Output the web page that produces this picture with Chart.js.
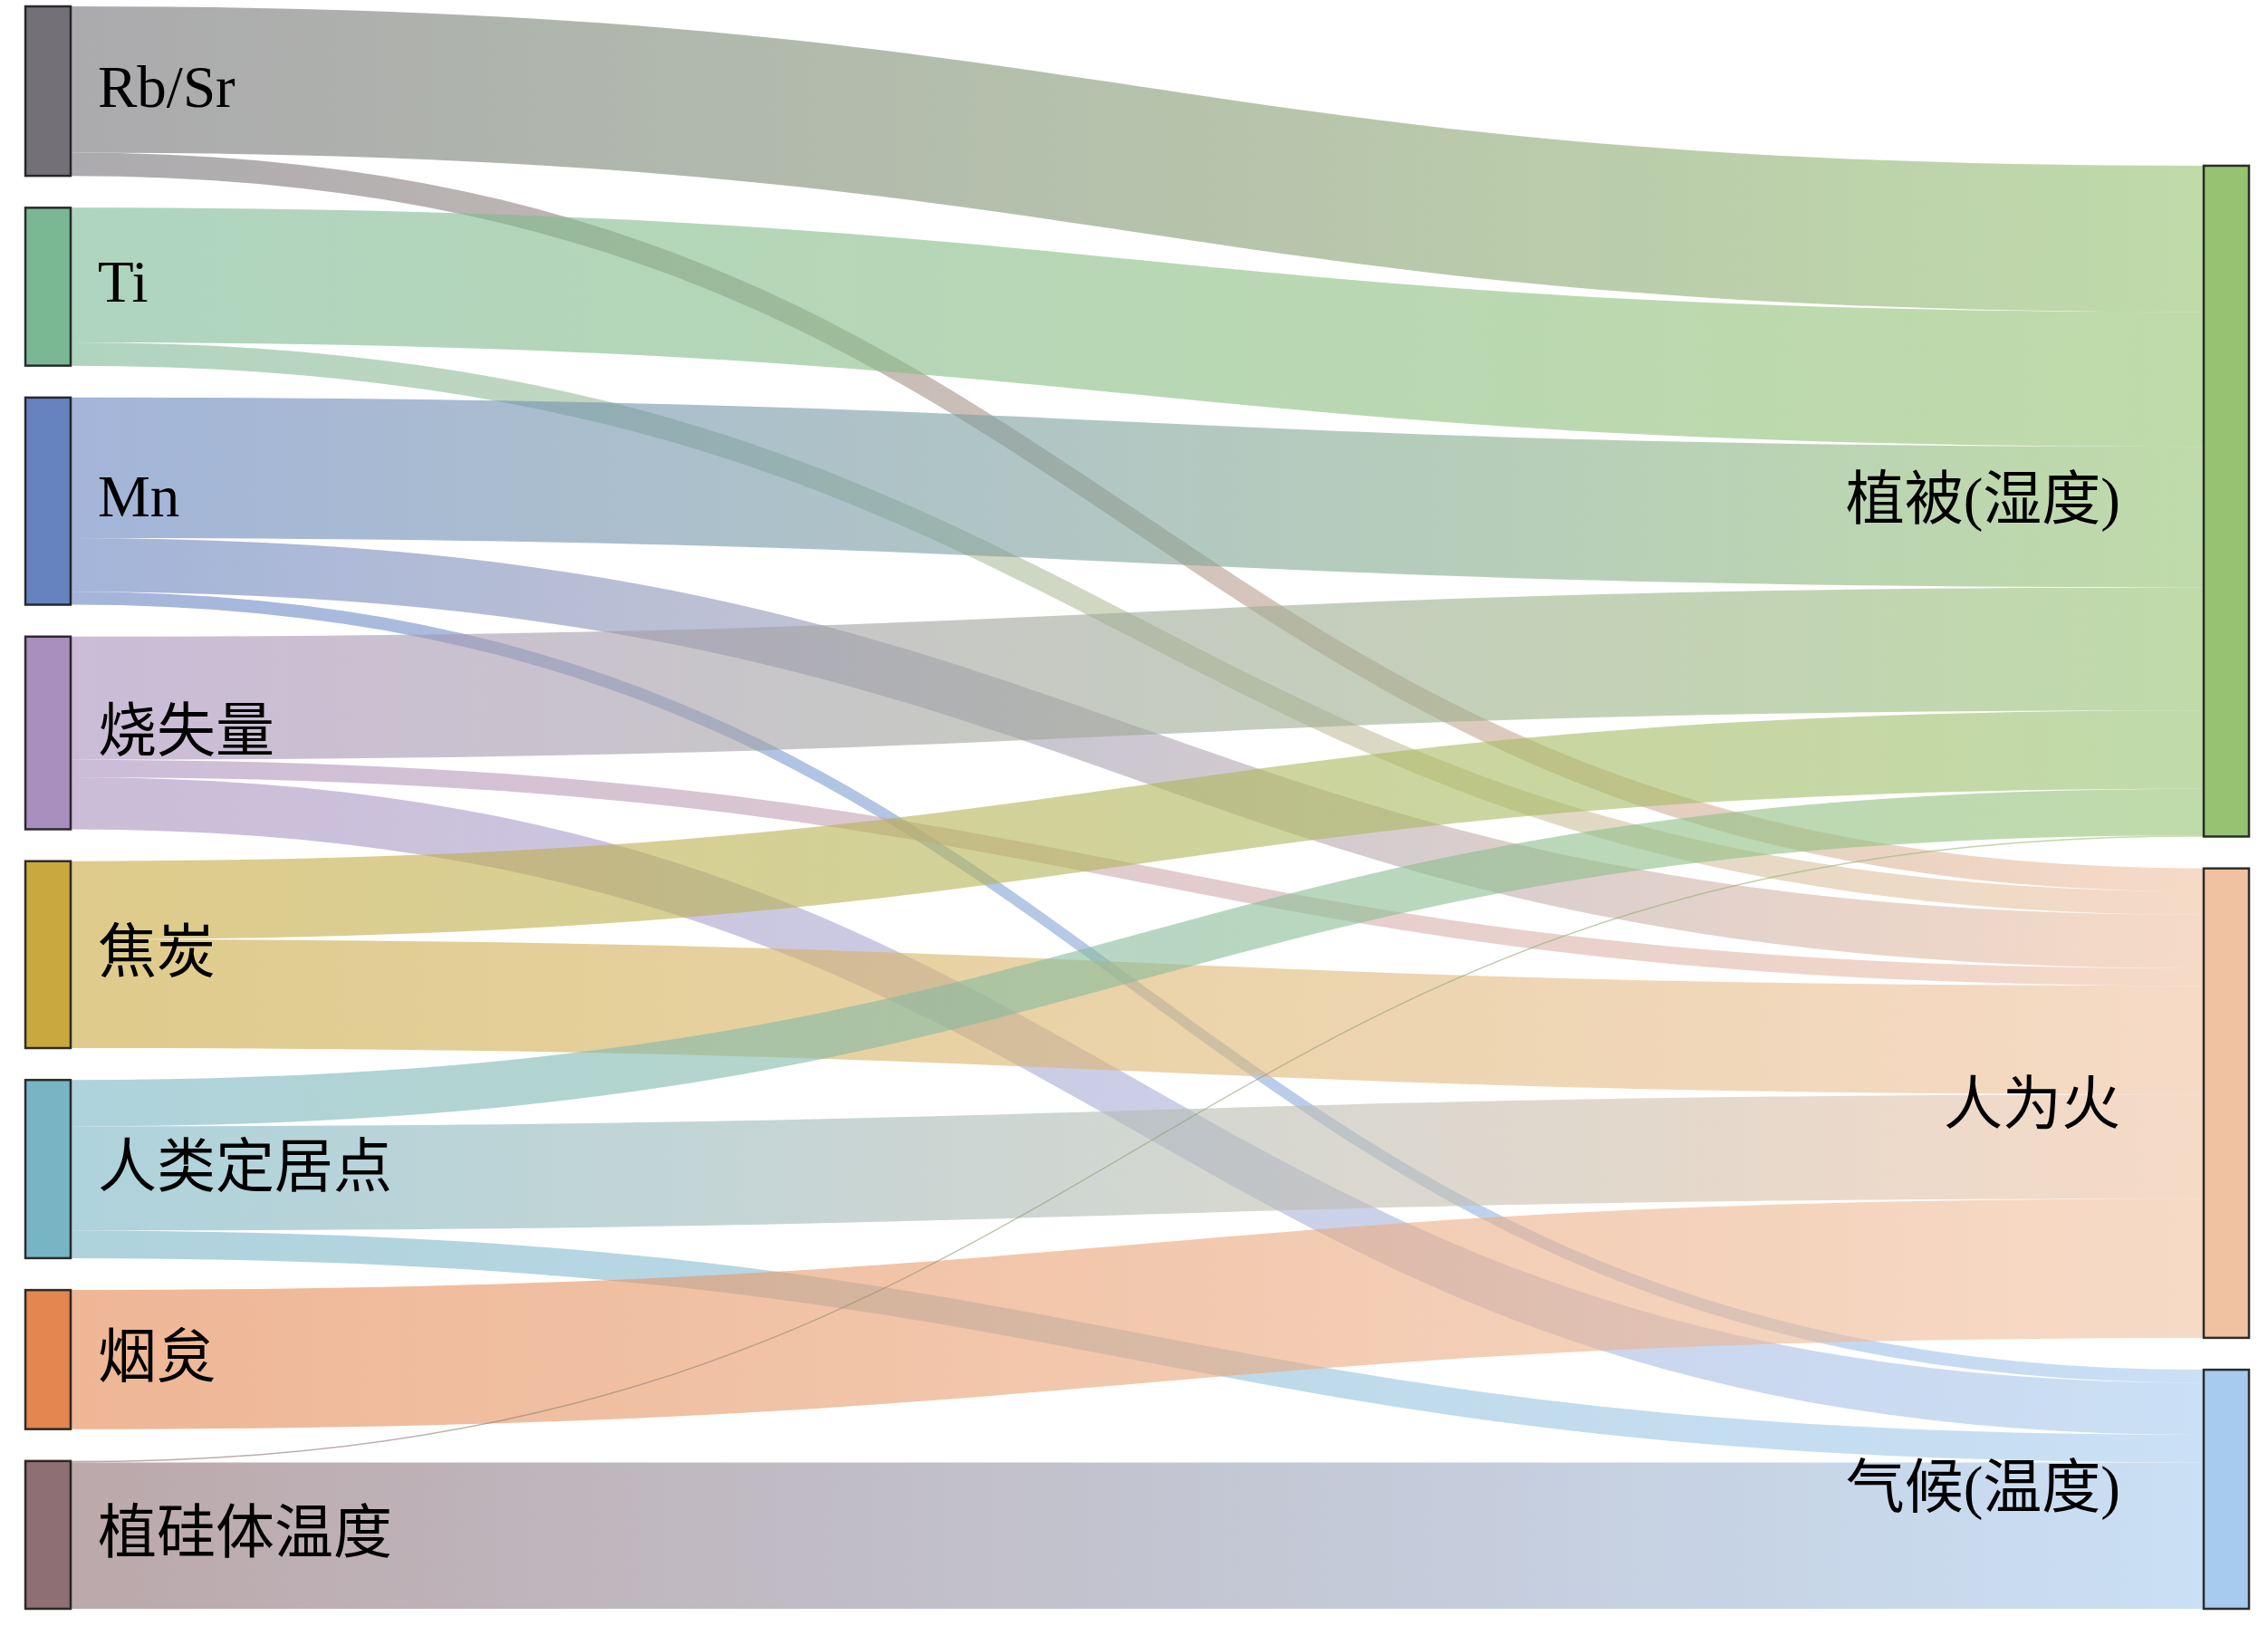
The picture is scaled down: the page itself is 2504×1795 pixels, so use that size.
<!DOCTYPE html>
<html>
<head>
<meta charset="utf-8">
<title>Sankey</title>
<script src="https://cdn.jsdelivr.net/npm/chart.js@4.4.1/dist/chart.umd.min.js"></script>
<style>
  html, body { margin: 0; padding: 0; background: #fff; }
  canvas { display: block; }
</style>
</head>
<body>
<canvas id="sankeyChart" width="2504" height="1795"></canvas>
<script>
  // Left column nodes (sources)
  const sources = ['Rb/Sr', 'Ti', 'Mn', '烧失量', '焦炭', '人类定居点', '烟炱', '植硅体温度'];
  // Right column nodes (targets)
  const targets = ['植被(湿度)', '人为火', '气候(温度)'];

  // Flow values per target, indexed like sources
  const toVegetation = [101, 93, 97, 85, 54, 32, 0, 1];
  const toHumanFire  = [16, 16, 37, 12, 75, 72, 96, 0];
  const toClimate    = [0, 0, 9, 36, 0, 19, 0, 101];

  const sourceColors = ['#737177', '#7ab894', '#6683c0', '#a98fbd', '#c9a93e', '#78b5c4', '#e3864f', '#8e6f73'];
  const targetColors = ['#96c271', '#f0c2a1', '#a7cbef'];

  const nodeGap = 22; // gap between nodes, in value units

  // Build layout (value space) from the arrays
  const matrix = [toVegetation, toHumanFire, toClimate];
  const srcTotals = sources.map((_, i) => matrix.reduce((s, row) => s + row[i], 0));
  const tgtTotals = matrix.map(row => row.reduce((s, v) => s + v, 0));

  const leftExtent = srcTotals.reduce((a, b) => a + b, 0) + nodeGap * (sources.length - 1);
  const rightExtent = tgtTotals.reduce((a, b) => a + b, 0) + nodeGap * (targets.length - 1);

  const srcY = [];
  let acc = 0;
  srcTotals.forEach(v => { srcY.push(acc); acc += v + nodeGap; });
  const tgtY = [];
  acc = leftExtent - rightExtent; // right column sits at the bottom
  tgtTotals.forEach(v => { tgtY.push(acc); acc += v + nodeGap; });

  const flows = [];
  const srcOff = srcY.slice();
  const tgtOff = tgtY.slice();
  sources.forEach((_, s) => {
    matrix.forEach((row, t) => {
      const v = row[s];
      if (!v) return;
      flows.push({ s: s, t: t, value: v, sy: srcOff[s], ty: 0 });
      srcOff[s] += v;
    });
  });
  // target offsets in source order
  targets.forEach((_, t) => {
    flows.filter(f => f.t === t).sort((a, b) => a.s - b.s).forEach(f => {
      f.ty = tgtOff[t];
      tgtOff[t] += f.value;
    });
  });

  const sankeyPlugin = {
    id: 'sankey',
    afterDatasetsDraw(chart, args, opts) {
      const ctx = chart.ctx;
      const xs = chart.scales.x, ys = chart.scales.y;
      const xl = xs.getPixelForValue(0), xr = xs.getPixelForValue(1);
      const w = opts.nodeWidth;
      const x0 = xl + w, x1 = xr - w;
      const xm = (x0 + x1) / 2;

      // flows
      ctx.save();
      ctx.globalAlpha = opts.flowAlpha;
      flows.forEach(f => {
        const a0 = ys.getPixelForValue(f.sy), a1 = ys.getPixelForValue(f.sy + f.value);
        const b0 = ys.getPixelForValue(f.ty), b1 = ys.getPixelForValue(f.ty + f.value);
        const g = ctx.createLinearGradient(x0, 0, x1, 0);
        g.addColorStop(0, sourceColors[f.s]);
        g.addColorStop(1, targetColors[f.t]);
        ctx.fillStyle = g;
        ctx.beginPath();
        ctx.moveTo(x0, a0);
        ctx.bezierCurveTo(xm, a0, xm, b0, x1, b0);
        ctx.lineTo(x1, b1);
        ctx.bezierCurveTo(xm, b1, xm, a1, x0, a1);
        ctx.closePath();
        ctx.fill();
      });
      ctx.restore();

      // nodes
      ctx.save();
      ctx.lineWidth = 2.5;
      ctx.strokeStyle = 'rgba(25,25,25,0.9)';
      sources.forEach((name, i) => {
        const top = ys.getPixelForValue(srcY[i]), bot = ys.getPixelForValue(srcY[i] + srcTotals[i]);
        ctx.fillStyle = sourceColors[i];
        ctx.fillRect(xl, top, w, bot - top);
        ctx.strokeRect(xl, top, w, bot - top);
      });
      targets.forEach((name, i) => {
        const top = ys.getPixelForValue(tgtY[i]), bot = ys.getPixelForValue(tgtY[i] + tgtTotals[i]);
        ctx.fillStyle = targetColors[i];
        ctx.fillRect(xr - w, top, w, bot - top);
        ctx.strokeRect(xr - w, top, w, bot - top);
      });

      // labels, ink centred on the node
      ctx.fillStyle = '#000';
      ctx.font = opts.font;
      ctx.textBaseline = 'alphabetic';
      const inkY = (text, mid) => {
        const m = ctx.measureText(text);
        return mid + (m.actualBoundingBoxAscent - m.actualBoundingBoxDescent) / 2 - 5;
      };
      ctx.textAlign = 'left';
      sources.forEach((name, i) => {
        const mid = ys.getPixelForValue(srcY[i] + srcTotals[i] / 2);
        ctx.fillText(name, x0 + opts.labelPadLeft, inkY(name, mid));
      });
      ctx.textAlign = 'right';
      targets.forEach((name, i) => {
        const mid = ys.getPixelForValue(tgtY[i] + tgtTotals[i] / 2);
        ctx.fillText(name, x1 - opts.labelPadRight, inkY(name, mid) + 4);
      });
      ctx.restore();
    }
  };

  const ctx = document.getElementById('sankeyChart').getContext('2d');
  const sankeyChart = new Chart(ctx, {
    type: 'scatter',
    data: { datasets: [{ data: [], showLine: false }] },
    options: {
      responsive: false,
      animation: false,
      devicePixelRatio: 1,
      layout: { padding: { left: 28, right: 21, top: 7, bottom: 19 } },
      scales: {
        x: { type: 'linear', min: 0, max: 1, display: false },
        y: { type: 'linear', min: 0, max: leftExtent, reverse: true, display: false }
      },
      plugins: {
        legend: { display: false },
        tooltip: { enabled: false },
        sankey: {
          nodeWidth: 50,
          flowAlpha: 0.6,
          labelPadLeft: 30,
          labelPadRight: 92,
          font: '65px "Liberation Serif", "Noto Sans CJK SC", serif'
        }
      }
    },
    plugins: [sankeyPlugin]
  });
</script>
</body>
</html>
